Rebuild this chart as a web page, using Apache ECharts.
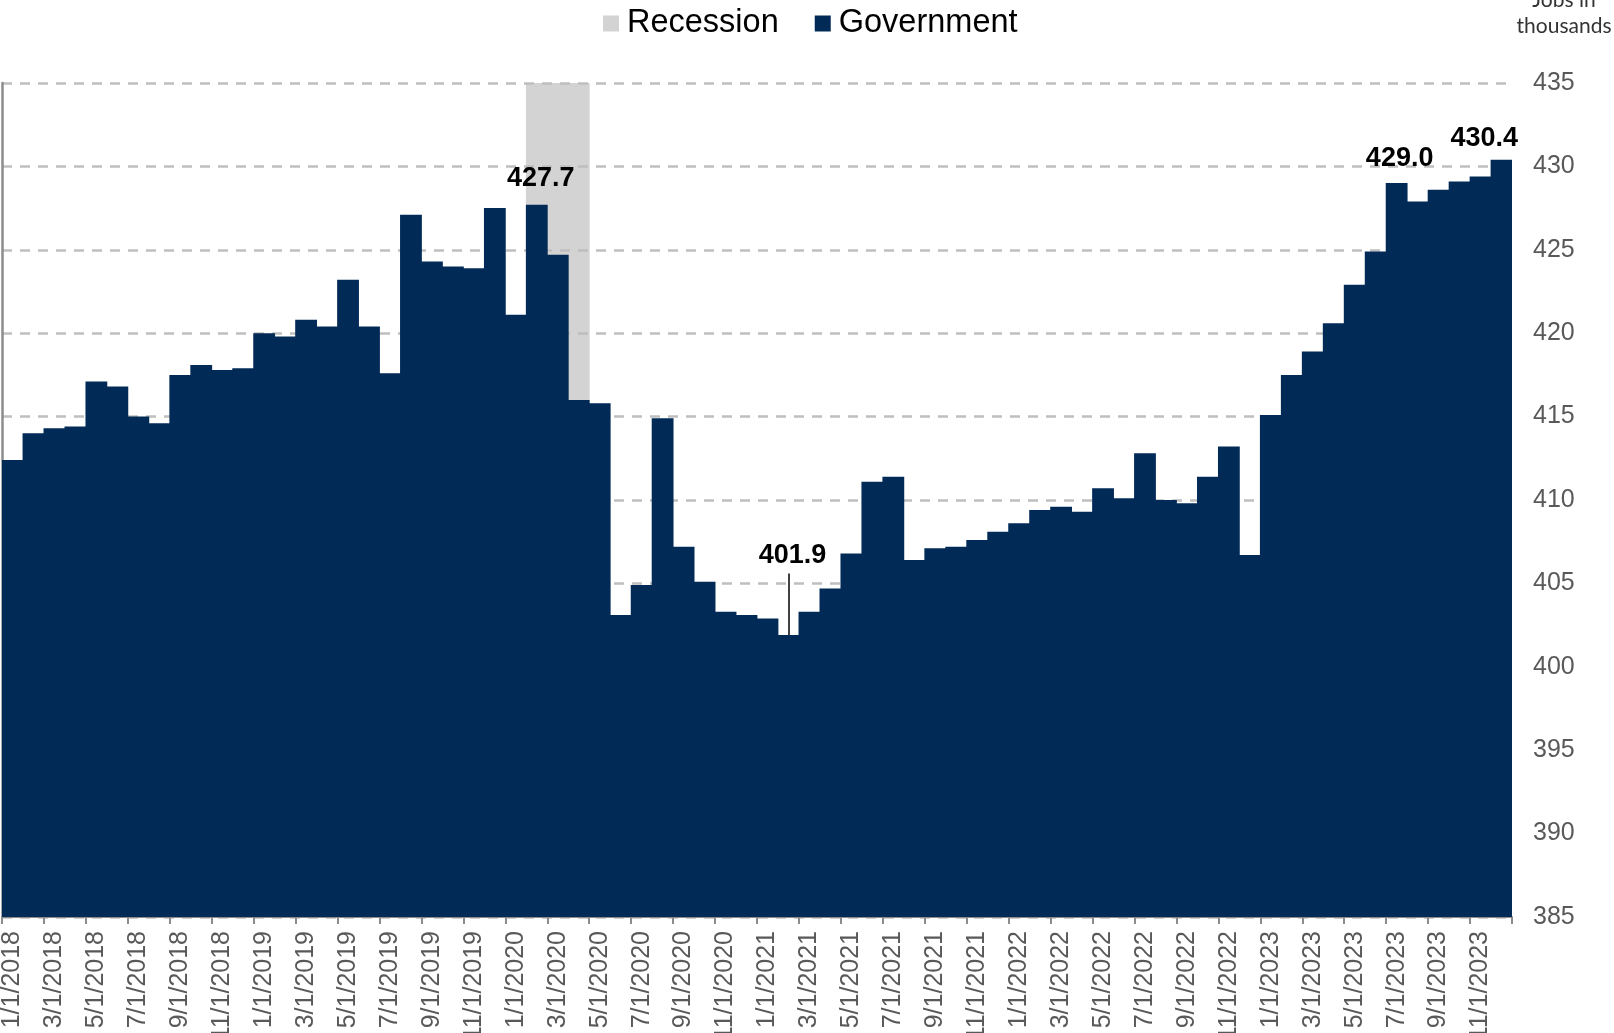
<!DOCTYPE html>
<html>
<head>
<meta charset="utf-8">
<script src="https://cdn.jsdelivr.net/npm/echarts@6/dist/echarts.min.js"></script>
<style>
html,body{margin:0;padding:0;background:#fff;overflow:hidden;}
#chart{width:1614px;height:1033px;}
</style>
</head>
<body>
<div id="chart"></div>
<script>
// ---- Data ----
const startYear = 2018;
const monthCount = 72;
const categories = [];
for (let i = 0; i < monthCount; i++) {
  const m = (i % 12) + 1;
  const y = startYear + Math.floor(i / 12);
  categories.push(m + '/1/' + y);
}
const government = [
  412.4, 414.0, 414.3, 414.4, 417.1, 416.8, 415.0, 414.6, 417.5, 418.1, 417.8, 417.9,
  420.0, 419.8, 420.8, 420.4, 423.2, 420.4, 417.6, 427.1, 424.3, 424.0, 423.9, 427.5,
  421.1, 427.7, 424.7, 416.0, 415.8, 403.1, 404.9, 414.9, 407.2, 405.1, 403.3, 403.1,
  402.9, 401.9, 403.3, 404.7, 406.8, 411.1, 411.4, 406.4, 407.1, 407.2, 407.6, 408.1,
  408.6, 409.4, 409.6, 409.3, 410.7, 410.1, 412.8, 410.0, 409.8, 411.4, 413.2, 406.7,
  415.1, 417.5, 418.9, 420.6, 422.9, 424.9, 429.0, 427.9, 428.6, 429.1, 429.4, 430.4
];
const recessionMonths = ['2/1/2020', '3/1/2020', '4/1/2020'];
const yMin = 385, yMax = 435, yStep = 5;
const labeledMonths = ['2/1/2020', '2/1/2021', '7/1/2023', '12/1/2023'];
const leaderTop = 405.6;

// ---- Build ----
const labelStyle = {
  '2/1/2020': {distance: 13, offset: [4, 0]},
  '2/1/2021': {distance: 66, offset: [4, 0]},
  '7/1/2023': {distance: 11, offset: [3, 0]},
  '12/1/2023': {distance: 8, offset: [-17, 0]}
};
const navy = '#022a57';
const govData = government.map((v, i) => {
  const c = categories[i];
  if (labeledMonths.indexOf(c) >= 0) {
    const s = labelStyle[c];
    return {
      value: v,
      label: {
        show: true, position: 'top', distance: s.distance, offset: s.offset,
        formatter: (p) => p.value.toFixed(1),
        fontFamily: 'Liberation Sans, Arial, sans-serif', fontWeight: 'bold',
        fontSize: 27, color: '#000'
      }
    };
  }
  return v;
});
const recData = categories.map(c => recessionMonths.indexOf(c) >= 0 ? yMax : null);
const minIdx = categories.indexOf('2/1/2021');

const chart = echarts.init(document.getElementById('chart'), null, {renderer: 'canvas', width: 1614, height: 1033});
chart.setOption({
  animation: false,
  backgroundColor: '#ffffff',
  legend: {
    data: ['Recession', 'Government'],
    left: 598, top: 2,
    icon: 'rect', itemWidth: 16, itemHeight: 16, itemGap: 36,
    textStyle: {fontFamily: 'Liberation Sans, Arial, sans-serif', fontSize: 32.5, color: '#000', padding: [0, 0, 0, 3]}
  },
  graphic: [{
    type: 'text', left: 1515, top: -13,
    style: {
      text: 'Jobs in\nthousands', fontFamily: 'Lato, sans-serif', fontSize: 21,
      lineHeight: 26, fill: '#333333', textAlign: 'center', width: 98
    }
  }],
  grid: {left: 2, right: 102, top: 83, height: 834, containLabel: false, outerBoundsMode: 'none'},
  xAxis: {
    type: 'category', data: categories, boundaryGap: true,
    axisLine: {show: true, lineStyle: {color: '#8c8c8c', width: 2}},
    axisTick: {show: true, interval: 1, length: 7, lineStyle: {color: '#8c8c8c', width: 2}},
    axisLabel: {
      interval: 1, rotate: 90, margin: 14,
      fontFamily: 'Liberation Sans, Arial, sans-serif', fontSize: 25, color: '#595959'
    },
    splitLine: {show: false}
  },
  yAxis: [{
    type: 'value', position: 'right', min: yMin, max: yMax, interval: yStep,
    axisLine: {show: false}, axisTick: {show: false},
    axisLabel: {margin: 21, fontFamily: 'Liberation Sans, Arial, sans-serif', fontSize: 25, color: '#595959'},
    splitLine: {show: true, lineStyle: {color: '#BFBFBF', width: 2.5, type: [10, 8]}}
  }, {
    type: 'value', position: 'left', min: yMin, max: yMax, interval: yStep,
    axisLine: {show: true, lineStyle: {color: '#8c8c8c', width: 2.5}},
    axisTick: {show: false}, axisLabel: {show: false}, splitLine: {show: false}
  }],
  series: [{
    name: 'Recession', type: 'bar', data: recData, z: -1,
    barWidth: '104%', barGap: '-100%',
    itemStyle: {color: '#D3D3D3'}, silent: true
  }, {
    name: 'Government', type: 'bar', data: govData, z: 2,
    barWidth: '104%', barGap: '-100%',
    itemStyle: {color: navy},
    markLine: {
      silent: true, symbol: 'none', animation: false,
      label: {show: false},
      lineStyle: {color: '#000', width: 1.5, type: 'solid'},
      data: [[{coord: [minIdx, government[minIdx]]}, {coord: [minIdx, leaderTop]}]]
    }
  }]
});
</script>
</body>
</html>
